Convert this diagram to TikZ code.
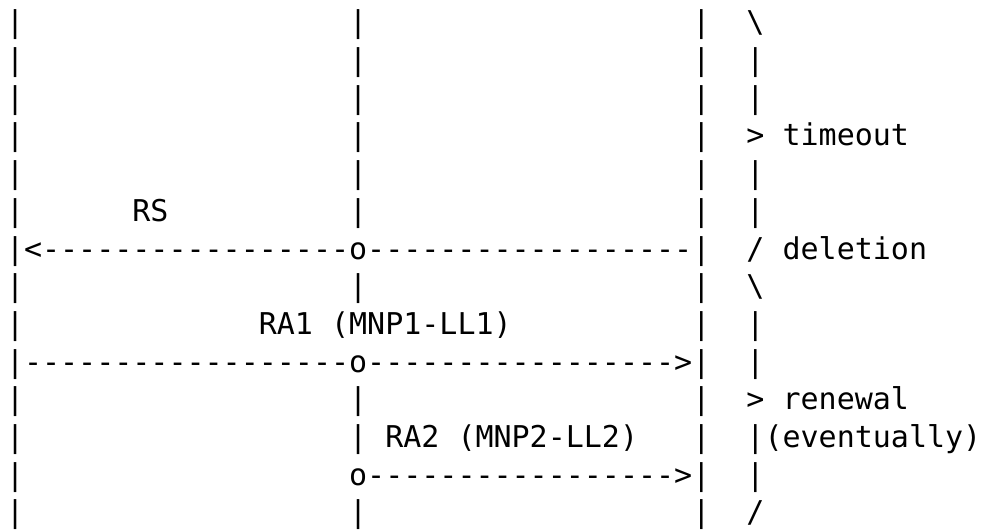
\documentclass[tikz,border=0pt]{standalone}
\usepackage{fontspec}
\setmonofont{DejaVu Sans Mono}
\newcommand\asctxt[4]{\node[asc] (#1) at ({6+#2*18.06},{497.1-#3*37.7}) {#4};}
\begin{document}
\begin{tikzpicture}[x=1pt,y=1pt,
  asc/.style={anchor=base west, inner sep=0pt, outer sep=0pt, text=black,
    font=\ttfamily\frenchspacing\fontsize{30}{36}\selectfont}]
\useasboundingbox (0,0) rectangle (991,530);
% left lifeline (column 0)
\foreach \r in {0,1,2,3,4,5,7,8,10,11,12,13}{\asctxt{la\r}{0}{\r}{|}}
% middle lifeline (column 19)
\foreach \r in {0,1,2,3,4,5,7,10,13}{\asctxt{mb\r}{19}{\r}{|}}
% right lifeline (column 38)
\foreach \r in {0,1,2,3,4,5,7,8,10,11,13}{\asctxt{rc\r}{38}{\r}{|}}
% brace column (column 41)
\foreach \r in {1,2,4,5,8,9,12}{\asctxt{br\r}{41}{\r}{|}}
\asctxt{br0}{41}{0}{\textbackslash}
\asctxt{timeout}{41}{3}{> timeout}
\asctxt{deletion}{41}{6}{/ deletion}
\asctxt{br7}{41}{7}{\textbackslash}
\asctxt{renewal}{41}{10}{> renewal}
\asctxt{eventually}{41}{11}{|(eventually)}
\asctxt{br13}{41}{13}{/}
% messages
\asctxt{rslabel}{7}{5}{RS}
\asctxt{rsarrow}{0}{6}{|<-----------------o------------------|}
\asctxt{raonelabel}{14}{8}{RA1 (MNP1-LL1)}
\asctxt{raonearrow}{0}{9}{|------------------o----------------->|}
\asctxt{ratwolabel}{19}{11}{| RA2 (MNP2-LL2)}
\asctxt{ratwoarrow}{19}{12}{o----------------->|}
\end{tikzpicture}
\end{document}
